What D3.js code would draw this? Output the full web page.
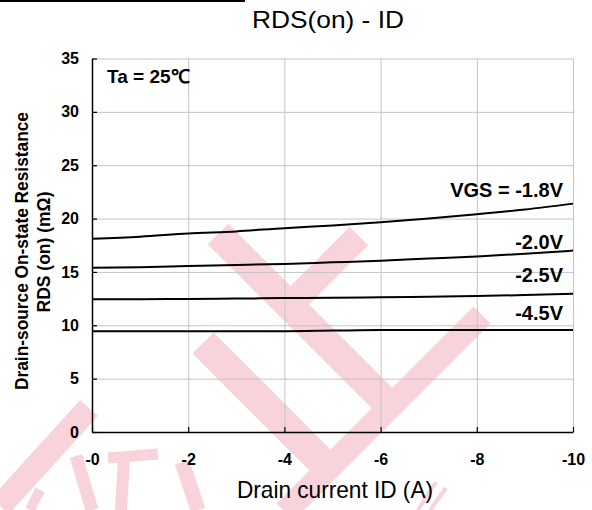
<!DOCTYPE html>
<html>
<head>
<meta charset="utf-8">
<script src="https://cdn.jsdelivr.net/npm/d3@7"></script>
<style>
  body { margin: 0; background: #fff; }
  text { font-family: Arial, "Liberation Sans", Helvetica, sans-serif; }
</style>
</head>
<body>
<div id="graph"></div>
<script>
const fullwidth = 592;
const fullheight = 510;

// Data
const currents = [0, -1, -2, -3, -4, -5, -6, -7, -8, -9, -10];
const rds18 = [18.1, 18.3, 18.6, 18.8, 19.1, 19.35, 19.65, 20.0, 20.4, 20.85, 21.4];
const rds20 = [15.4, 15.45, 15.55, 15.65, 15.75, 15.9, 16.05, 16.25, 16.45, 16.7, 17.0];
const rds25 = [12.45, 12.45, 12.47, 12.5, 12.55, 12.58, 12.62, 12.68, 12.75, 12.83, 12.95];
const rds45 = [9.45, 9.45, 9.45, 9.45, 9.45, 9.5, 9.55, 9.55, 9.55, 9.55, 9.55];
const seriesLabels = ["VGS = -1.8V", "-2.0V", "-2.5V", "-4.5V"];
const xTicks = [0, -2, -4, -6, -8, -10];
const xTickLabels = ["-0", "-2", "-4", "-6", "-8", "-10"];
const yTicks = [0, 5, 10, 15, 20, 25, 30, 35];

const plotLeft = 92, plotRight = 573, plotTop = 58.5, plotBottom = 432;

const svg = d3.select("#graph").append("svg")
    .attr("width", fullwidth)
    .attr("height", fullheight);

// watermark (pink strokes behind the chart)
const wm = svg.append("g")
    .attr("stroke", "#f9d3db")
    .attr("fill", "none")
    .attr("stroke-linecap", "butt");
const strokes = [
    [[218, 234], [386, 402], 29],
    [[359, 236], [296, 299], 26],
    [[482, 315], [285, 512], 24],
    [[203, 343], [332, 472], 30],
    [[89, 408], [0, 506], 24],
    [[76, 456], [92, 510], 13],
    [[108, 458], [158, 454], 11],
    [[124, 458], [121, 510], 12],
    [[182, 462], [198, 510], 15],
    [[40, 490], [30, 510], 10],
    [[436, 482], [418, 510], 4],
    [[446, 488], [430, 510], 4]
];
strokes.forEach(s => {
    wm.append("line")
        .attr("x1", s[0][0]).attr("y1", s[0][1])
        .attr("x2", s[1][0]).attr("y2", s[1][1])
        .attr("stroke-width", s[2]);
});

// clipped header underline at very top
svg.append("line")
    .attr("x1", 0).attr("x2", 245)
    .attr("y1", 1).attr("y2", 1)
    .attr("stroke", "#000").attr("stroke-width", 2);

const x = d3.scaleLinear().domain([0, -10]).range([plotLeft, plotRight]);
const y = d3.scaleLinear().domain([0, 35]).range([plotBottom, plotTop]);

// grid
svg.append("g")
    .attr("transform", `translate(0,${plotBottom})`)
    .call(d3.axisBottom(x).tickValues(xTicks.slice(1)).tickSize(-(plotBottom - plotTop)).tickFormat(""))
    .call(g => g.select(".domain").remove())
    .call(g => g.selectAll("line").attr("stroke", "#c4c4c4"));
svg.append("g")
    .attr("transform", `translate(${plotLeft},0)`)
    .call(d3.axisLeft(y).tickValues(yTicks.slice(1)).tickSize(-(plotRight - plotLeft)).tickFormat(""))
    .call(g => g.select(".domain").remove())
    .call(g => g.selectAll("line").attr("stroke", "#c4c4c4"));

// axes (inward ticks)
const xAxis = svg.append("g")
    .attr("transform", `translate(0,${plotBottom})`)
    .call(d3.axisBottom(x).tickValues(xTicks).tickSize(-5).tickSizeOuter(0)
        .tickFormat((d, i) => xTickLabels[i]));
xAxis.select(".domain").attr("stroke", "#000").attr("stroke-width", 1.5);
xAxis.selectAll("line").attr("stroke", "#000").attr("stroke-width", 1.2);
xAxis.selectAll("text")
    .attr("y", 33)
    .attr("dy", 0)
    .style("font-size", "16px")
    .style("font-weight", "bold")
    .attr("fill", "#000");

const yAxis = svg.append("g")
    .attr("transform", `translate(${plotLeft},0)`)
    .call(d3.axisLeft(y).tickValues(yTicks).tickSize(-5).tickSizeOuter(0));
yAxis.select(".domain").attr("stroke", "#000").attr("stroke-width", 1.5);
yAxis.selectAll("line").attr("stroke", "#000").attr("stroke-width", 1.2);
yAxis.selectAll("text")
    .attr("x", -13)
    .style("font-size", "16px")
    .style("font-weight", "bold")
    .attr("fill", "#000");

// curves
const allSeries = [rds18, rds20, rds25, rds45];
const line = d3.line()
    .x((d, i) => x(currents[i]))
    .y(d => y(d))
    .curve(d3.curveMonotoneX);
svg.selectAll("path.curve")
    .data(allSeries)
    .enter()
    .append("path")
    .attr("class", "curve")
    .attr("fill", "none")
    .attr("stroke", "#000")
    .attr("stroke-width", 2)
    .attr("d", line);

// curve labels
const labelBase = [197, 249, 282, 320];
svg.selectAll("text.lab")
    .data(seriesLabels)
    .enter()
    .append("text")
    .attr("class", "lab")
    .attr("x", 563)
    .attr("y", (d, i) => labelBase[i])
    .attr("text-anchor", "end")
    .style("font-size", "20px")
    .style("font-weight", "bold")
    .text(d => d);

svg.append("text")
    .attr("x", 107).attr("y", 83)
    .style("font-size", "19px")
    .style("font-weight", "bold")
    .text("Ta = 25℃");

// titles
svg.append("text")
    .attr("x", 252).attr("y", 28)
    .attr("textLength", 152).attr("lengthAdjust", "spacingAndGlyphs")
    .style("font-size", "24px")
    .text("RDS(on) - ID");

svg.append("text")
    .attr("x", 237).attr("y", 498)
    .attr("textLength", 196).attr("lengthAdjust", "spacingAndGlyphs")
    .style("font-size", "24px")
    .text("Drain current ID (A)");

svg.append("text")
    .attr("transform", "translate(28,251) rotate(-90)")
    .attr("text-anchor", "middle")
    .attr("textLength", 278).attr("lengthAdjust", "spacingAndGlyphs")
    .style("font-size", "18px")
    .style("font-weight", "bold")
    .text("Drain-source On-state Resistance");

svg.append("text")
    .attr("transform", "translate(50,252) rotate(-90)")
    .attr("text-anchor", "middle")
    .attr("textLength", 121).attr("lengthAdjust", "spacingAndGlyphs")
    .style("font-size", "18px")
    .style("font-weight", "bold")
    .text("RDS (on) (mΩ)");
</script>
</body>
</html>
